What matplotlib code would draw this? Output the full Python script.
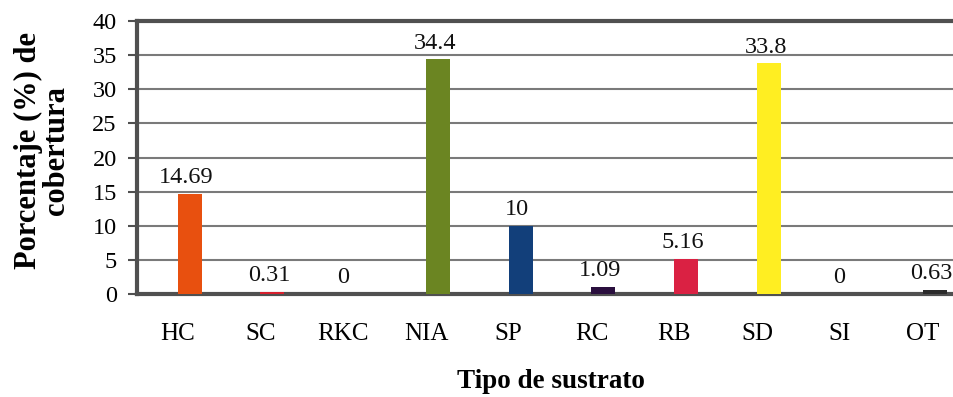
import matplotlib
matplotlib.use("Agg")
import matplotlib.pyplot as plt
import numpy as np

plt.rcParams['font.family'] = ['Liberation Serif', 'DejaVu Serif']

# Cobertura por tipo de sustrato
categories = ["HC", "SC", "RKC", "NIA", "SP", "RC", "RB", "SD", "SI", "OT"]
values = [14.69, 0.31, 0, 34.4, 10, 1.09, 5.16, 33.8, 0, 0.63]
value_labels = ["14.69", "0.31", "0", "34.4", "10", "1.09", "5.16", "33.8", "0", "0.63"]
colors = ["#E8500F", "#D8202E", "#888888", "#6B8522", "#123F7A",
          "#2A0F3E", "#DA2143", "#FFEE22", "#888888", "#2B2B2B"]
y_ticks = [0, 5, 10, 15, 20, 25, 30, 35, 40]

fig = plt.figure(figsize=(9.54, 3.97), dpi=100)
ax = fig.add_axes([0.1436, 0.2594, 0.8669, 0.6877])

x = np.arange(len(categories))
bar_shift = 0.145
bar_width = 0.29
ax.bar(x + bar_shift, values, width=bar_width, color=colors, zorder=3)

# data labels sit over the bars; empty bars get theirs nearer the category centre
for xi, v, lab in zip(x, values, value_labels):
    lx = xi + bar_shift - (0.15 if v == 0 else 0.04)
    ax.annotate(lab, (lx, v), xytext=(0, 4),
                textcoords="offset points", ha="center", va="bottom",
                fontsize=17.5, color="#111111", zorder=4)

ax.set_xlim(-0.49, 9.5)
ax.set_ylim(0, 40)
ax.set_yticks(y_ticks)
ax.set_xticks(x)
ax.set_xticklabels(categories, fontsize=18)
ax.tick_params(axis="x", length=0, pad=21)
ax.tick_params(axis="y", labelsize=17.5, length=6.5, width=1.5,
               color="#505050", direction="out", pad=8)

ax.yaxis.grid(True, color="#7a7a7a", linewidth=1.5, zorder=0)
ax.set_axisbelow(True)

for side in ("left", "top", "bottom"):
    ax.spines[side].set_color("#505050")
    ax.spines[side].set_linewidth(3)
ax.spines["right"].set_visible(False)

ax.set_xlabel("Tipo de sustrato", fontsize=19.5, fontweight="bold", labelpad=17)
fig.text(0.0445, 0.622, "Porcentaje (%) de\ncobertura", rotation=90,
         ha="center", va="center", multialignment="center",
         fontsize=22, fontweight="bold", linespacing=0.92)

fig.savefig("out.png", dpi=100)
